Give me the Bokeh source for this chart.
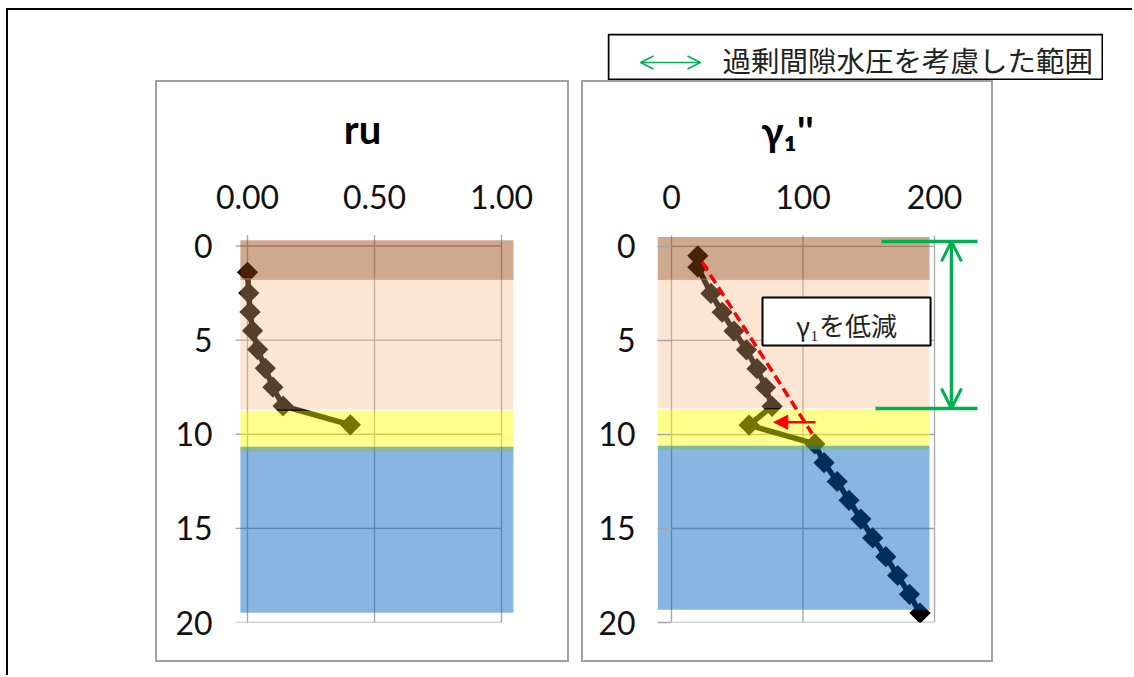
import numpy as np
from bokeh.plotting import figure
from bokeh.layouts import row, column, Spacer
from bokeh.models import (Range1d, FixedTicker, Label, Arrow, OpenHead, NormalHead,
                          BoxAnnotation)
from bokeh.core.properties import value
from bokeh.embed import file_html
from bokeh.resources import INLINE

# ---------------- data ----------------
ru_depth = [1.4, 2.5, 3.5, 4.5, 5.5, 6.5, 7.5, 8.5, 9.5]
ru_value = [0.00, 0.005, 0.01, 0.02, 0.04, 0.07, 0.10, 0.14, 0.405]

g_depth = [0.5, 1.1, 2.5, 3.5, 4.5, 5.5, 6.5, 7.5, 8.5, 9.5,
           10.5, 11.5, 12.5, 13.5, 14.5, 15.5, 16.5, 17.5, 18.5, 19.5]
g_value = [20, 20, 30, 38.5, 47.5, 57, 65, 71.5, 76.5, 59,
           109, 116, 126, 135, 144, 153, 163, 172, 181, 189]

ru_ticks = [0.0, 0.5, 1.0]
ru_tick_labels = ["0.00", "0.50", "1.00"]
g_ticks = [0, 100, 200]
g_tick_labels = ["0", "100", "200"]
depth_ticks = [0, 5, 10, 15, 20]
depth_tick_labels = ["0", "5", "10", "15", "20"]

layer_colors = ["#964610", "#f5b482", "#ffff00", "#0064be"]
layer_alphas = [0.47, 0.35, 0.45, 0.47]
ru_layer_top = [-0.3, 1.7, 8.75, 10.67]
ru_layer_bottom = [1.8, 8.68, 10.93, 19.48]
g_layer_top = [-0.5, 1.7, 8.66, 10.6]
g_layer_bottom = [1.78, 8.6, 10.8, 19.32]

title_ru = "ru"
title_g = "γ₁''"
legend_text = "過剰間隙水圧を考慮した範囲"
note_text = "γ₁を低減"

GRID = "#a6a6a6"
BOX = "#a0a0a0"
GREEN = "#00b050"
RED = "#ff0000"
FONT = "Lato"


def make_panel(width, height, xr, yr, borders, xticks, xlabels, grid_left,
               tick_in_y, tick_out_y, ystandoff, label_y, grid_top, title, title_x, title_y):
    p = figure(width=width, height=height, x_range=Range1d(*xr), y_range=Range1d(*yr),
               x_axis_type=None, output_backend="svg", toolbar_location=None,
               title=None, min_border_left=borders[0], min_border_right=borders[1],
               min_border_top=borders[2], min_border_bottom=borders[3])
    p.xgrid.visible = False
    p.ygrid.visible = False
    p.outline_line_color = None
    p.background_fill_color = "white"
    p.border_fill_color = "white"
    p.yaxis.ticker = FixedTicker(ticks=depth_ticks)
    p.yaxis.major_label_overrides = {t: l for t, l in zip(depth_ticks, depth_tick_labels)}
    ax = p.yaxis[0]
    ax.axis_line_color = None
    ax.minor_tick_line_color = None
    ax.major_tick_line_color = GRID
    ax.major_tick_line_width = 1.3
    ax.major_label_text_font = FONT
    ax.major_label_text_font_size = "32px"
    ax.major_label_text_color = "#111111"
    ax.major_tick_in = tick_in_y
    ax.major_tick_out = tick_out_y
    ax.major_label_standoff = ystandoff
    # grid lines (with their outward tick stubs)
    p.segment(x0=xticks, y0=[grid_top] * len(xticks), x1=xticks,
              y1=[depth_ticks[-1]] * len(xticks), line_color=GRID, line_width=1.3)
    p.segment(x0=[grid_left] * len(depth_ticks), y0=depth_ticks,
              x1=[xticks[-1]] * len(depth_ticks), y1=depth_ticks,
              line_color=GRID, line_width=1.3)
    # top value-axis labels and chart title
    p.text(x=xticks, y=[label_y] * len(xticks), text=xlabels, text_align="center",
           text_baseline="middle", text_font=value(FONT), text_font_size="32px",
           text_color="#111111")
    p.text(x=[title_x], y=[title_y], text=[title], text_align="center",
           text_baseline="middle", text_font=value(FONT), text_font_size="40px",
           text_font_style="bold", text_color="black")
    p.styles = {"border": f"2px solid {BOX}"}
    return p


def add_series(p, xs, ys):
    p.line(xs, ys, line_color="black", line_width=5.5)
    p.scatter(xs, ys, marker="square", angle=np.pi / 4, size=15,
              fill_color="black", line_color=None)


def add_layers(p, x0, x1, tops, bottoms):
    n = len(tops)
    p.quad(left=[x0] * n, right=[x1] * n, top=tops, bottom=bottoms,
           fill_color=layer_colors, fill_alpha=layer_alphas, line_color=None)


# ---------------- left panel : ru ----------------
pl = make_panel(414, 582, (-0.1339, 1.1535), (20, -8.685), (56, 31, 0, 41),
                ru_ticks, ru_tick_labels, -0.047, 0, 0, 1, -2.6, -0.58,
                title_ru, 0.453, -6.2)
add_series(pl, ru_value, ru_depth)
add_layers(pl, -0.028, 1.047, ru_layer_top, ru_layer_bottom)

# ---------------- right panel : gamma ----------------
pr = make_panel(412, 582, (-10.65, 236.5), (20, -8.72), (74, 13, 0, 42),
                g_ticks, g_tick_labels, g_ticks[0], 14, 0, 22, -2.61, -0.58,
                title_g, 88.2, -6.12)
add_series(pr, g_value, g_depth)
add_layers(pr, -10.6, 196.2, g_layer_top, g_layer_bottom)

# red dashed line and arrow
pr.segment(x0=[23.3], y0=[0.83], x1=[107], y1=[9.96], line_color=RED, line_width=3.5,
           line_dash="10 5")
pr.add_layout(Arrow(end=NormalHead(size=14, fill_color=RED, line_color=RED),
                    x_start=109.5, y_start=9.35, x_end=77.8, y_end=9.35,
                    line_color=RED, line_width=2.5))
# note box
pr.add_layout(BoxAnnotation(left=69.2, right=197.0, top=2.71, bottom=5.27,
                            fill_color="white", fill_alpha=1.0,
                            line_color="black", line_width=2, line_alpha=1.0))
pr.add_layout(Label(x=133.1, y=4.15, text=note_text, text_align="center",
                    text_baseline="middle", text_font="Noto Sans CJK JP",
                    text_font_size="26px", text_color="#222222"))
# green dimension
pr.segment(x0=[159.7, 155.1], y0=[-0.27, 8.62], x1=[232.7, 232.7], y1=[-0.27, 8.62],
           line_color=GREEN, line_width=3.5)
pr.add_layout(Arrow(start=OpenHead(size=20, line_color=GREEN, line_width=3),
                    end=OpenHead(size=20, line_color=GREEN, line_width=3),
                    x_start=212.9, y_start=-0.27, x_end=212.9, y_end=8.62,
                    line_color=GREEN, line_width=3.5))

# ---------------- legend ----------------
lg = figure(width=496, height=47, x_range=Range1d(0, 496), y_range=Range1d(47, 0),
            x_axis_type=None, y_axis_type=None, output_backend="svg",
            toolbar_location=None, title=None, min_border=0)
lg.xgrid.visible = False
lg.ygrid.visible = False
lg.outline_line_color = None
lg.add_layout(BoxAnnotation(left=1, right=495, top=1, bottom=46, fill_color="white",
                            fill_alpha=1.0, line_color="black", line_width=2, line_alpha=1.0))
lg.add_layout(Arrow(start=OpenHead(size=13, line_color=GREEN, line_width=1.5),
                    end=OpenHead(size=13, line_color=GREEN, line_width=1.5),
                    x_start=33, y_start=29, x_end=93, y_end=29,
                    line_color=GREEN, line_width=1.5))
lg.add_layout(Label(x=115, y=26, text=legend_text, text_align="left",
                    text_baseline="middle", text_font="Noto Sans CJK JP",
                    text_font_size="28.5px", text_color="#222222"))

row1 = row(Spacer(width=599, height=70), column(Spacer(width=496, height=23), lg),
           Spacer(width=29, height=70))
row2 = row(Spacer(width=147, height=582), pl, Spacer(width=12, height=582), pr)
page = column(row1, row2, Spacer(width=10, height=13),
              styles={"border-top": "2px solid black",
                      "border-left": "2px solid black",
                      "background-color": "white"})
root = column(Spacer(width=10, height=8), row(Spacer(width=6, height=10), page))

open("out.html", "w").write(file_html(root, INLINE))
